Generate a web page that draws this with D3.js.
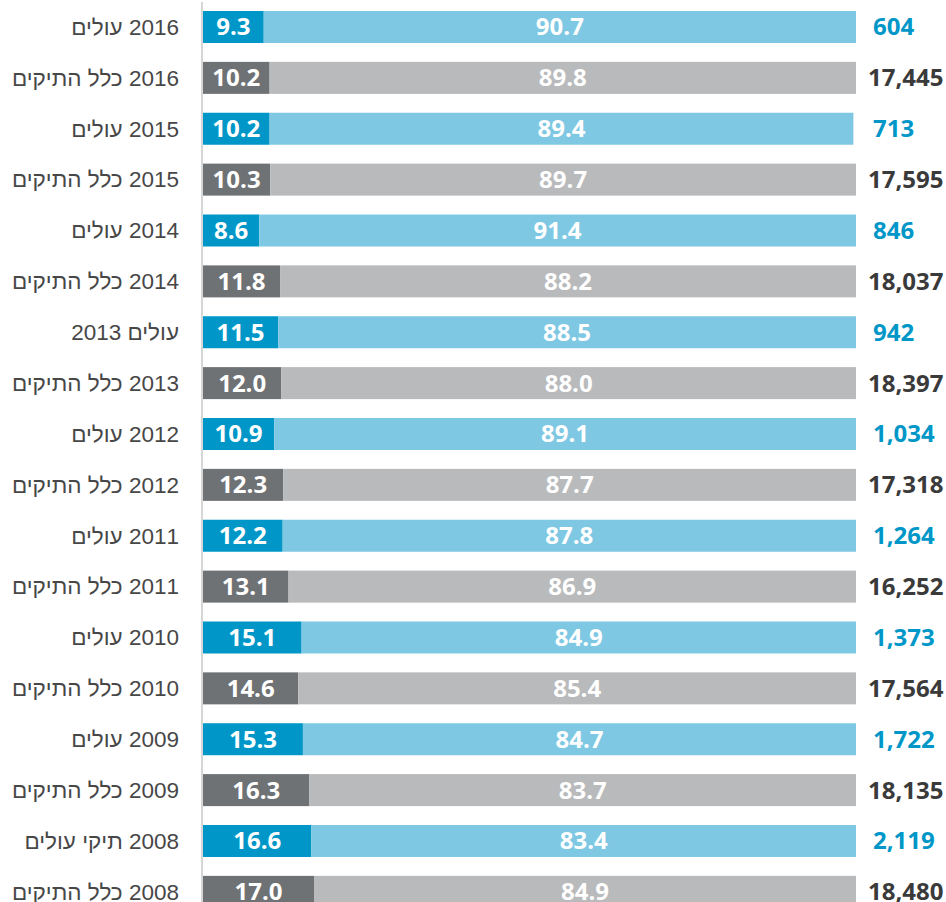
<!DOCTYPE html>
<html lang="he">
<head>
<meta charset="utf-8">
<script src="https://cdn.jsdelivr.net/npm/d3@7"></script>
<style>
  html, body { margin: 0; padding: 0; background: #ffffff; overflow: hidden; }
  svg { display: block; }
</style>
</head>
<body>
<script>
// Row labels, top to bottom
const labels = [
  "2016 עולים", "2016 כלל התיקים",
  "2015 עולים", "2015 כלל התיקים",
  "2014 עולים", "2014 כלל התיקים",
  "עולים 2013", "2013 כלל התיקים",
  "2012 עולים", "2012 כלל התיקים",
  "2011 עולים", "2011 כלל התיקים",
  "2010 עולים", "2010 כלל התיקים",
  "2009 עולים", "2009 כלל התיקים",
  "2008 תיקי עולים", "2008 כלל התיקים"
];
// Group of each row: immigrants (blue) or all files (gray)
const groups = [
  "olim", "all", "olim", "all", "olim", "all", "olim", "all", "olim",
  "all", "olim", "all", "olim", "all", "olim", "all", "olim", "all"
];
// First segment share (%)
const firstShare = [
  9.3, 10.2, 10.2, 10.3, 8.6, 11.8, 11.5, 12.0, 10.9,
  12.3, 12.2, 13.1, 15.1, 14.6, 15.3, 16.3, 16.6, 17.0
];
// Second segment share (%)
const secondShare = [
  90.7, 89.8, 89.4, 89.7, 91.4, 88.2, 88.5, 88.0, 89.1,
  87.7, 87.8, 86.9, 84.9, 85.4, 84.7, 83.7, 83.4, 84.9
];
// Number of files per row
const totals = [
  604, 17445, 713, 17595, 846, 18037, 942, 18397, 1034,
  17318, 1264, 16252, 1373, 17564, 1722, 18135, 2119, 18480
];

const W = 946, H = 902;
const colors = {
  olim: { dark: "#0097c8", light: "#7fc8e3", text: "#0097c8" },
  all:  { dark: "#6f7275", light: "#b9babc", text: "#3a3a3a" }
};

const rows = labels.map((label, i) => ({
  label, group: groups[i], a: firstShare[i], b: secondShare[i], total: totals[i]
}));

const svg = d3.select("body").append("svg").attr("width", W).attr("height", H);

// percentage axis, capped at 100%
const x = d3.scaleLinear().domain([0, 100]).range([203, 856]).clamp(true);
const y = d3.scaleBand()
  .domain(d3.range(rows.length))
  .range([1.56, 917.3])
  .paddingInner(0.371)
  .paddingOuter(0.1855);
const bh = y.bandwidth();

const fmt = d3.format(",");
const fmt1 = d3.format(".1f");

const row = svg.selectAll("g.row").data(rows).join("g")
  .attr("class", "row")
  .attr("transform", (d, i) => `translate(0,${y(i)})`);

// first segment
row.append("rect")
  .attr("x", x(0))
  .attr("y", 0)
  .attr("width", d => x(d.a) - x(0))
  .attr("height", bh)
  .attr("fill", d => colors[d.group].dark);

// second segment, stacked after the first
row.append("rect")
  .attr("x", d => x(d.a))
  .attr("y", 0)
  .attr("width", d => x(d.a + d.b) - x(d.a))
  .attr("height", bh)
  .attr("fill", d => colors[d.group].light);

const valueFont = "'Open Sans', 'DejaVu Sans', sans-serif";

// segment value labels
row.append("text")
  .attr("x", d => (x(0) + x(d.a)) / 2)
  .attr("y", bh / 2)
  .attr("dy", "0.35em")
  .attr("text-anchor", "middle")
  .attr("fill", "#ffffff")
  .style("font-family", valueFont)
  .style("font-weight", 700)
  .style("font-size", "24px")
  .text(d => fmt1(d.a));

row.append("text")
  .attr("x", d => (x(d.a) + x(d.a + d.b)) / 2)
  .attr("y", bh / 2)
  .attr("dy", "0.35em")
  .attr("text-anchor", "middle")
  .attr("fill", "#ffffff")
  .style("font-family", valueFont)
  .style("font-weight", 700)
  .style("font-size", "24px")
  .text(d => fmt1(d.b));

// totals on the right
row.append("text")
  .attr("x", d => d.group === "olim" ? 873 : 868)
  .attr("y", bh / 2)
  .attr("dy", "0.35em")
  .attr("text-anchor", "start")
  .attr("fill", d => colors[d.group].text)
  .style("font-family", valueFont)
  .style("font-weight", 700)
  .style("font-size", "24px")
  .text(d => fmt(d.total));

// category labels on the left (right-to-left text)
row.append("text")
  .attr("x", 179)
  .attr("y", bh / 2)
  .attr("dy", "0.35em")
  .attr("direction", "rtl")
  .attr("text-anchor", "start")
  .attr("fill", "#474747")
  .style("font-family", "'Liberation Sans', Arial, sans-serif")
  .style("font-size", "22.5px")
  .text(d => d.label);

// vertical axis line
svg.append("line")
  .attr("x1", 202).attr("x2", 202)
  .attr("y1", 2).attr("y2", H)
  .attr("stroke", "#c9c9c9")
  .attr("stroke-width", 1.5);
</script>
</body>
</html>
